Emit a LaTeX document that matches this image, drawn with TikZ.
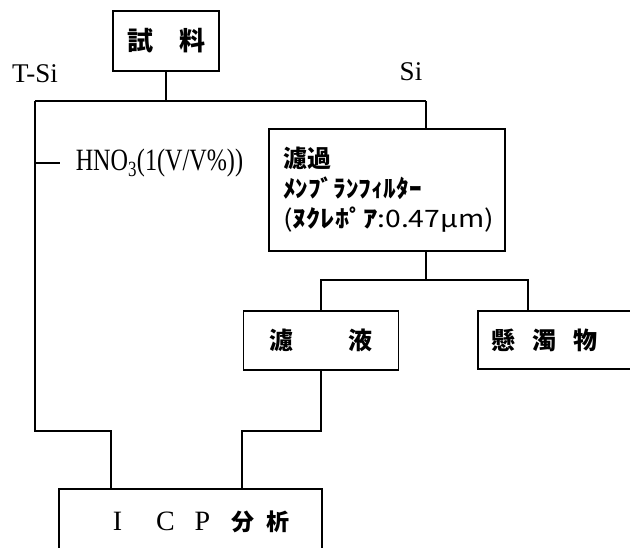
\documentclass[tikz,border=0pt]{standalone}
\usepackage{fontspec}
\usepackage{graphicx}
\setmainfont{Liberation Serif}
\newfontfamily\jp{Noto Sans CJK JP}
\begin{document}
\begin{tikzpicture}[x=1pt,y=-1pt,
  box/.style={draw, line width=1.5pt, inner sep=0pt, font=\jp},
  conn/.style={line width=1.5pt},
  lbl/.style={inner sep=0pt, font=\fontsize{27}{27}\selectfont}]
\useasboundingbox (0,0) rectangle (630,547);
\begin{scope}
\clip (0,0) rectangle (630,547);
% boxes
\node[box, minimum width=106pt, minimum height=60pt, font=\jp\bfseries\fontsize{26}{26}\selectfont] (sample) at (166,41) {試\hspace{26pt}料};
\node[box, minimum width=236pt, minimum height=122pt, text width=208pt, inner xsep=14pt, align=left, font=\jp\bfseries\fontsize{24}{30}\selectfont] (filt) at (387,190) {濾過\\\scalebox{1.05}[1]{ﾒﾝﾌﾞﾗﾝﾌｨﾙﾀｰ}\\\scalebox{1.18}[1]{{\mdseries (}ﾇｸﾚﾎﾟｱ{\mdseries :0.47μm)}}};
\node[box, minimum width=155pt, minimum height=59pt, font=\jp\bfseries\fontsize{24}{24}\selectfont] (filtrate) at (321,340.5) {濾\hspace{56pt}液};
\node[box, anchor=west, minimum width=210pt, minimum height=58pt, text width=182pt, inner xsep=13pt, align=left, font=\jp\bfseries\fontsize{24}{24}\selectfont] (susp) at (477,340) {懸\hspace{17pt}濁\hspace{17pt}物};
\node[box, minimum width=263pt, minimum height=66pt, font=\fontsize{28}{28}\selectfont] (icp) at (190.5,522) {\makebox[50pt]{I}\makebox[46pt]{C}\makebox[28pt]{P}\makebox[52pt]{\jp\bfseries\fontsize{23}{23}\selectfont 分}\makebox[20pt]{\jp\bfseries\fontsize{23}{23}\selectfont 析}\hspace{41pt}};
% labels
\node[lbl] (tsi) at (35,74) {T-Si};
\node[lbl] (si) at (411,72) {Si};
% connectors
\coordinate (split) at (166,101);
\coordinate (lt) at (35,101);
\coordinate (rt) at (426,101);
\coordinate (ljoin) at (111,431);
\coordinate (rjoin) at (242,431);
\coordinate (sb) at (528,280);
\coordinate (hn) at (35,163);
\draw[conn] (sample.south) -- (split);
\draw[conn] (lt) -- (rt);
\draw[conn] (lt) |- (ljoin) -- (ljoin |- icp.north);
\draw[conn] (rt) -- (rt |- filt.north);
\draw[conn] (rt |- filt.south) -- (rt |- sb);
\draw[conn] (filtrate.north) |- (sb) -- (sb |- susp.north);
\draw[conn] (filtrate.south) |- (rjoin) -- (rjoin |- icp.north);
\draw[conn] (hn) -- ++(25,0) node[anchor=west, inner xsep=15pt, inner ysep=0pt, font=\fontsize{31}{31}\selectfont] (hno) {\scalebox{0.78}[1]{HNO\textsubscript{3}(1(V/V\%))}};
\end{scope}
\end{tikzpicture}
\end{document}
